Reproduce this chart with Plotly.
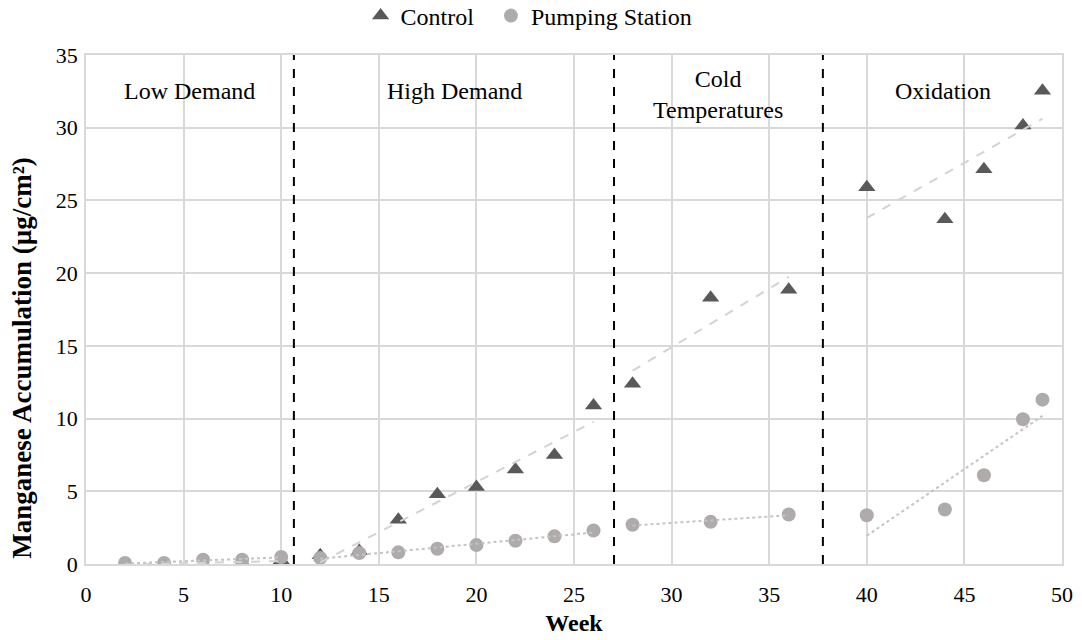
import numpy as np
import plotly.graph_objects as go

weeks = [2, 4, 6, 8, 10, 12, 14, 16, 18, 20, 22, 24, 26, 28, 32, 36, 40, 44, 46, 48, 49]
control = [0.0, 0.0, 0.05, 0.1, 0.25, 0.6, 0.9, 3.05, 4.8, 5.3, 6.5, 7.5, 10.9, 12.4, 18.3, 18.85, 25.9, 23.7, 27.15, 30.15, 32.55]
pumping = [0.07, 0.07, 0.3, 0.3, 0.48, 0.42, 0.75, 0.8, 1.05, 1.3, 1.6, 1.9, 2.3, 2.7, 2.9, 3.4, 3.35, 3.75, 6.1, 9.95, 11.3]

# phase periods (week ranges used for the per-phase linear trendlines)
phase_ranges = [(2, 10), (12, 26), (28, 36), (40, 49)]
phase_bounds = [10.65, 27.05, 37.75]
phase_labels = ["Low Demand", "High Demand", "Cold<br>Temperatures", "Oxidation"]
phase_label_x = [5.3, 18.9, 32.4, 43.9]
phase_label_y = [32.5, 32.5, 32.3, 32.5]

FONT = "Liberation Serif, Times New Roman, serif"
C_CTRL = "#595959"
C_PUMP = "#AFABAB"

fig = go.Figure()
fig.add_trace(go.Scatter(x=weeks, y=control, mode="markers", name="Control\u00a0\u00a0",
                         marker=dict(symbol="triangle-up", size=15, color=C_CTRL)))
fig.add_trace(go.Scatter(x=weeks, y=pumping, mode="markers", name="Pumping Station",
                         marker=dict(symbol="circle", size=14, color=C_PUMP)))

w = np.array(weeks, dtype=float)
for series, color, dash in [(np.array(control), "#D3D3D3", "dash"), (np.array(pumping), "#C4C4C4", "dot")]:
    for lo, hi in phase_ranges:
        m = (w >= lo) & (w <= hi)
        k, b = np.polyfit(w[m], series[m], 1)
        xs = np.array([w[m].min(), w[m].max()])
        fig.add_trace(go.Scatter(x=xs, y=k * xs + b, mode="lines", showlegend=False,
                                 hoverinfo="skip",
                                 line=dict(color=color, width=2, dash=dash)))

for xb in phase_bounds:
    fig.add_shape(type="line", x0=xb, x1=xb, y0=0, y1=1, xref="x", yref="paper",
                  line=dict(color="black", width=2, dash="dash"))

for lx, ly, lt in zip(phase_label_x, phase_label_y, phase_labels):
    fig.add_annotation(x=lx, y=ly, xref="x", yref="y", text=lt,
                       showarrow=False, yanchor="middle",
                       font=dict(family=FONT, size=24, color="black"))

# y-axis title (placed as rotated text, as in the original)
fig.add_annotation(x=-0.0656, y=0.405, xref="paper", yref="paper",
                   text="<b>Manganese Accumulation (µg/cm²)</b>", textangle=-90,
                   showarrow=False, xanchor="center", yanchor="middle",
                   font=dict(family=FONT, size=27, color="black"))

axis_common = dict(showgrid=True, gridcolor="#D9D9D9", gridwidth=1.5,
                   showline=True, linecolor="#D9D9D9", linewidth=1.5, mirror=True,
                   zeroline=False, ticks="",
                   tickfont=dict(family=FONT, size=22, color="black"))

fig.update_xaxes(range=[0, 50], tick0=0, dtick=5, ticklabelstandoff=10,
                 title=dict(text="<b>Week</b>", font=dict(family=FONT, size=24, color="black"), standoff=8),
                 **axis_common)
fig.update_yaxes(range=[0, 35], tick0=0, dtick=5, ticklabelstandoff=2,
                 **axis_common)

fig.update_layout(
    width=1082, height=640,
    margin=dict(l=86, r=20, t=55, b=76, autoexpand=False),
    plot_bgcolor="white", paper_bgcolor="white",
    font=dict(family=FONT, size=22, color="black"),
    legend=dict(orientation="h", x=0.489, xanchor="center", xref="container",
                y=0.975, yanchor="middle", yref="container",
                font=dict(family=FONT, size=24, color="black"), itemwidth=30,
                bgcolor="rgba(0,0,0,0)"),
    showlegend=True,
)

fig.write_html("out.html")
